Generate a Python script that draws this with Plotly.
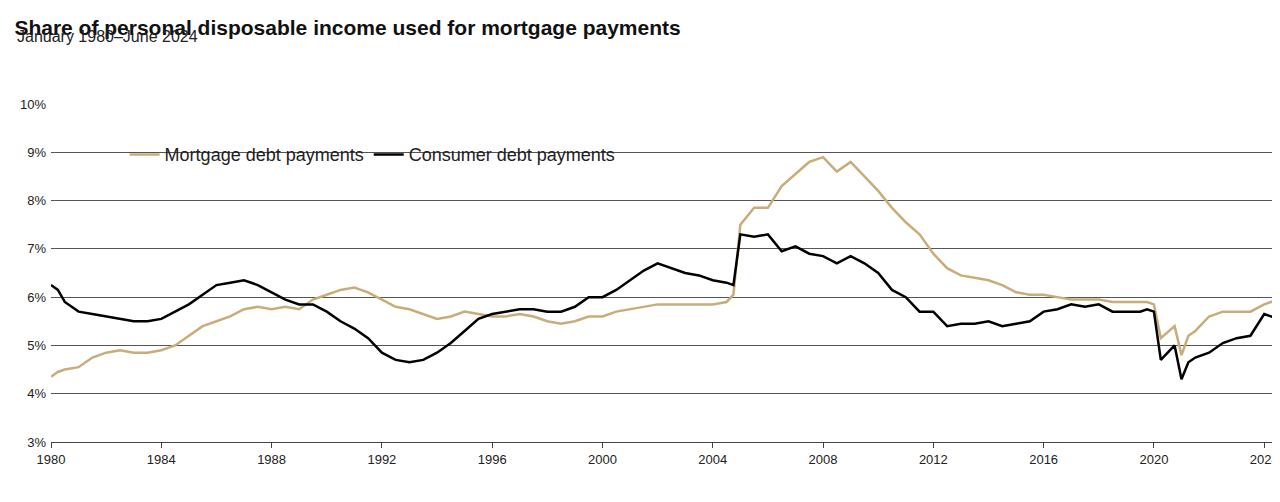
import plotly.graph_objects as go

years = [1980, 1980.25, 1980.5, 1981, 1981.5, 1982, 1982.5, 1983, 1983.5, 1984, 1984.5,
         1985, 1985.5, 1986, 1986.5, 1987, 1987.5, 1988, 1988.5, 1989, 1989.5,
         1990, 1990.5, 1991, 1991.5, 1992, 1992.5, 1993, 1993.5, 1994, 1994.5,
         1995, 1995.5, 1996, 1996.5, 1997, 1997.5, 1998, 1998.5, 1999, 1999.5,
         2000, 2000.5, 2001, 2001.5, 2002, 2002.5, 2003, 2003.5, 2004, 2004.5, 2004.75,
         2005, 2005.5, 2006, 2006.5, 2007, 2007.5, 2008, 2008.5, 2009, 2009.5,
         2010, 2010.5, 2011, 2011.5, 2012, 2012.5, 2013, 2013.5, 2014, 2014.5,
         2015, 2015.5, 2016, 2016.5, 2017, 2017.5, 2018, 2018.5, 2019, 2019.5, 2019.75,
         2020, 2020.25, 2020.75, 2021, 2021.25, 2021.5, 2022, 2022.5, 2023, 2023.5, 2024, 2024.5]

mortgage = [4.35, 4.45, 4.5, 4.55, 4.75, 4.85, 4.9, 4.85, 4.85, 4.9, 5.0,
            5.2, 5.4, 5.5, 5.6, 5.75, 5.8, 5.75, 5.8, 5.75, 5.95,
            6.05, 6.15, 6.2, 6.1, 5.95, 5.8, 5.75, 5.65, 5.55, 5.6,
            5.7, 5.65, 5.6, 5.6, 5.65, 5.6, 5.5, 5.45, 5.5, 5.6,
            5.6, 5.7, 5.75, 5.8, 5.85, 5.85, 5.85, 5.85, 5.85, 5.9, 6.05,
            7.5, 7.85, 7.85, 8.3, 8.55, 8.8, 8.9, 8.6, 8.8, 8.5,
            8.2, 7.85, 7.55, 7.3, 6.9, 6.6, 6.45, 6.4, 6.35, 6.25,
            6.1, 6.05, 6.05, 6.0, 5.95, 5.95, 5.95, 5.9, 5.9, 5.9, 5.9,
            5.85, 5.15, 5.4, 4.8, 5.2, 5.3, 5.6, 5.7, 5.7, 5.7, 5.85, 5.95]

consumer = [6.25, 6.15, 5.9, 5.7, 5.65, 5.6, 5.55, 5.5, 5.5, 5.55, 5.7,
            5.85, 6.05, 6.25, 6.3, 6.35, 6.25, 6.1, 5.95, 5.85, 5.85,
            5.7, 5.5, 5.35, 5.15, 4.85, 4.7, 4.65, 4.7, 4.85, 5.05,
            5.3, 5.55, 5.65, 5.7, 5.75, 5.75, 5.7, 5.7, 5.8, 6.0,
            6.0, 6.15, 6.35, 6.55, 6.7, 6.6, 6.5, 6.45, 6.35, 6.3, 6.25,
            7.3, 7.25, 7.3, 6.95, 7.05, 6.9, 6.85, 6.7, 6.85, 6.7,
            6.5, 6.15, 6.0, 5.7, 5.7, 5.4, 5.45, 5.45, 5.5, 5.4,
            5.45, 5.5, 5.7, 5.75, 5.85, 5.8, 5.85, 5.7, 5.7, 5.7, 5.75,
            5.7, 4.7, 5.0, 4.3, 4.65, 4.75, 4.85, 5.05, 5.15, 5.2, 5.65, 5.55]

x_ticks = list(range(1980, 2025, 4))
y_ticks = list(range(3, 11))

font = "Liberation Sans, Arial, sans-serif"

fig = go.Figure()
fig.add_trace(go.Scatter(x=years, y=mortgage, mode="lines", name="Mortgage debt payments",
                         line=dict(color="#c9ad79", width=2.5)))
fig.add_trace(go.Scatter(x=years, y=consumer, mode="lines", name="Consumer debt payments",
                         line=dict(color="#000000", width=2.5)))

fig.update_layout(
    width=1280, height=502,
    margin=dict(l=43, r=10, t=96, b=68),
    paper_bgcolor="white", plot_bgcolor="white",
    font=dict(family=font, size=13, color="#222"),
    title=dict(text="<b>Share of personal disposable income used for mortgage payments</b>",
               x=0.005, xanchor="left", y=0.975, yanchor="top",
               font=dict(size=21, color="#111")),
    legend=dict(orientation="h", x=0.06, y=0.85, xanchor="left", yanchor="middle",
                font=dict(size=18, color="#222"), bgcolor="rgba(0,0,0,0)"),
    annotations=[
        dict(text="January 1980–June 2024", xref="paper", yref="paper", x=-0.029, y=1.2,
             xanchor="left", yanchor="middle", showarrow=False, font=dict(size=16, color="#222")),
        dict(text="Source: Federal Reserve Bank of St. Louis", xref="paper", yref="paper",
             x=-0.029, y=-0.2, xanchor="left", yanchor="middle", showarrow=False,
             font=dict(size=13, color="#222")),
    ],
)
fig.update_xaxes(range=[1980, 2024.5], tickvals=x_ticks, ticktext=[str(t) for t in x_ticks],
                 showgrid=False, ticks="outside", ticklen=5, tickcolor="#444",
                 showline=True, linecolor="#444", tickfont=dict(size=13))
fig.update_yaxes(range=[3, 10], tickvals=y_ticks, ticktext=[f"{t}%" for t in y_ticks],
                 showgrid=True, gridcolor="#555", gridwidth=1, zeroline=False,
                 tickfont=dict(size=13), ticklabelstandoff=4)

fig.write_html("out.html")
